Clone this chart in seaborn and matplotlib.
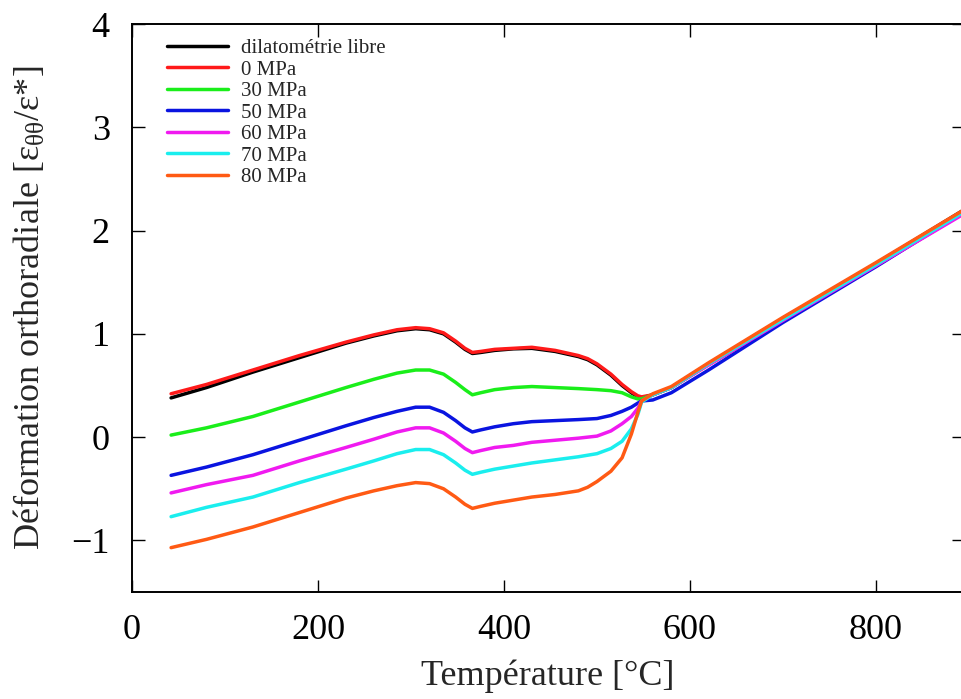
import numpy as np
import pandas as pd
import matplotlib.pyplot as plt
import seaborn as sns

# temperature grid (°C)
temperature = [42, 80, 130, 180, 230, 260, 285, 305, 320, 335, 348, 358, 366, 375, 390,
               410, 430, 455, 480, 490, 500, 515, 527, 537, 544, 548, 560, 580, 620, 700, 800, 900]

dilato_libre = [0.38, 0.48, 0.63, 0.77, 0.91, 0.98, 1.03, 1.05, 1.04, 1.00, 0.92, 0.85, 0.81, 0.82, 0.84,
                0.855, 0.86, 0.83, 0.78, 0.75, 0.70, 0.60, 0.50, 0.43, 0.39, 0.38, 0.41, 0.48, 0.71, 1.15, 1.68, 2.23]
mpa_0 = [0.42, 0.51, 0.65, 0.79, 0.92, 0.99, 1.04, 1.06, 1.05, 1.01, 0.93, 0.86, 0.82, 0.83, 0.85,
         0.86, 0.87, 0.84, 0.79, 0.76, 0.71, 0.61, 0.51, 0.44, 0.40, 0.39, 0.41, 0.48, 0.70, 1.13, 1.66, 2.20]
mpa_30 = [0.02, 0.09, 0.20, 0.34, 0.48, 0.56, 0.62, 0.65, 0.65, 0.61, 0.53, 0.46, 0.41, 0.43, 0.46,
          0.48, 0.49, 0.48, 0.47, 0.465, 0.46, 0.45, 0.43, 0.39, 0.37, 0.37, 0.41, 0.48, 0.71, 1.14, 1.67, 2.22]
mpa_50 = [-0.37, -0.29, -0.17, -0.03, 0.11, 0.19, 0.25, 0.29, 0.29, 0.24, 0.16, 0.09, 0.05, 0.07, 0.10,
          0.13, 0.15, 0.16, 0.17, 0.175, 0.18, 0.21, 0.25, 0.29, 0.33, 0.35, 0.36, 0.43, 0.65, 1.11, 1.65, 2.21]
mpa_60 = [-0.54, -0.46, -0.37, -0.23, -0.10, -0.02, 0.05, 0.09, 0.09, 0.04, -0.04, -0.11, -0.15, -0.13, -0.10,
          -0.08, -0.05, -0.03, -0.01, 0.0, 0.01, 0.06, 0.13, 0.20, 0.28, 0.35, 0.41, 0.48, 0.70, 1.13, 1.66, 2.19]
mpa_70 = [-0.77, -0.68, -0.58, -0.44, -0.31, -0.23, -0.16, -0.12, -0.12, -0.17, -0.25, -0.32, -0.36, -0.34, -0.31,
          -0.28, -0.25, -0.22, -0.19, -0.175, -0.16, -0.11, -0.04, 0.08, 0.22, 0.34, 0.41, 0.48, 0.71, 1.14, 1.67, 2.21]
mpa_80 = [-1.07, -0.99, -0.87, -0.73, -0.59, -0.52, -0.47, -0.44, -0.45, -0.50, -0.58, -0.65, -0.69, -0.67, -0.64,
          -0.61, -0.58, -0.555, -0.52, -0.485, -0.43, -0.33, -0.20, 0.03, 0.24, 0.35, 0.42, 0.49, 0.72, 1.16, 1.69, 2.23]

labels = ["dilatométrie libre", "0 MPa", "30 MPa", "50 MPa", "60 MPa", "70 MPa", "80 MPa"]
series = [dilato_libre, mpa_0, mpa_30, mpa_50, mpa_60, mpa_70, mpa_80]
colors = ["#000000", "#ff1a1a", "#1aee1a", "#0a14e0", "#f01af0", "#1aeeee", "#ff5a14"]

# tableau long pour seaborn
df = pd.concat([pd.DataFrame({"T": temperature, "eps": s, "essai": lab})
                for lab, s in zip(labels, series)], ignore_index=True)

sns.set_style("ticks")
plt.rcParams["font.family"] = ["Liberation Serif", "DejaVu Serif"]
plt.rcParams["mathtext.fontset"] = "custom"
plt.rcParams["mathtext.rm"] = "Liberation Serif"
plt.rcParams["mathtext.it"] = "Liberation Serif:italic"

fig = plt.figure(figsize=(9.61, 6.99), dpi=100)
ax = fig.add_axes([0.1374, 0.153, 0.866, 0.8126])

sns.lineplot(data=df, x="T", y="eps", hue="essai", hue_order=labels,
             palette=dict(zip(labels, colors)), estimator=None, sort=False,
             linewidth=2.5, ax=ax)

ax.set_xlim(0, 895)
ax.set_ylim(-1.5, 4)
ax.set_xticks([0, 200, 400, 600, 800])
ax.set_yticks([-1, 0, 1, 2, 3, 4])
ax.set_yticklabels(["\u22121", "0", "1", "2", "3", "4"])
ax.tick_params(direction="in", length=9, width=1, top=True, right=True,
               labelsize=26, colors="black")
ax.tick_params(axis="x", pad=16)
ax.tick_params(axis="y", pad=16)
for sp in ax.spines.values():
    sp.set_linewidth(1.4)
    sp.set_color("black")

ax.set_xlabel("Température [°C]", fontsize=26, labelpad=9)
ax.set_ylabel("Déformation orthoradiale [ε$_{\\mathrm{θθ}}$/ε*]", fontsize=26, labelpad=17)

ax.legend(loc="upper left", bbox_to_anchor=(0.025, 1.0), frameon=False,
          fontsize=15, handlelength=2.9, labelspacing=0.09, handletextpad=0.62,
          borderaxespad=0.3)

plt.savefig("out.png", dpi=100)
